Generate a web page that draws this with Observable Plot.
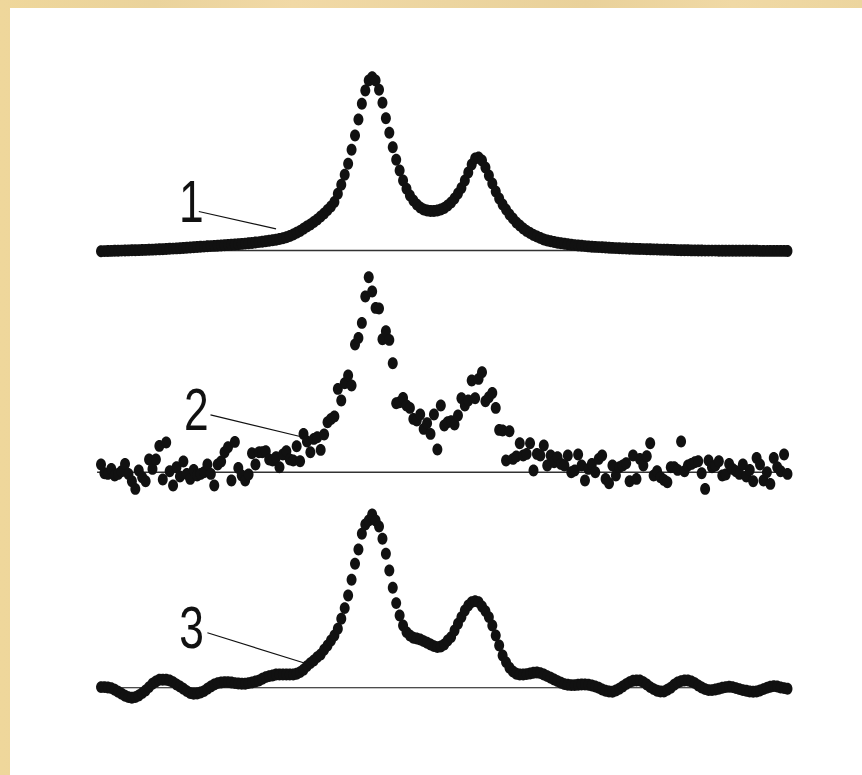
<!DOCTYPE html>
<html>
<head>
<meta charset="utf-8">
<script src="https://cdn.jsdelivr.net/npm/d3@7"></script>
<script src="https://cdn.jsdelivr.net/npm/@observablehq/plot@0.6"></script>
<style>
html,body{margin:0;padding:0;width:862px;height:775px;overflow:hidden;background:#efd9a0;}
body{background:
  linear-gradient(90deg,#efd79b 0%,#ead39c 18%,#f1d9a6 34%,#ecd5a0 52%,#e9d19a 68%,#f0d9a5 85%,#ecd59e 100%);}
#sheet{position:absolute;left:10px;top:8px;width:852px;height:767px;background:#fff;}
#chart{position:absolute;left:0;top:0;width:862px;height:775px;}
#chart svg{display:block;background:transparent;}
</style>
</head>
<body>
<div id="sheet"></div>
<div id="chart"></div>
<script>
// Intensities, one per channel (0..200), above each trace's own baseline.
const trace1 = [
-.7,-.6,-.5,-.4,-.3,-.2,-.1,0,.1,.2,.3,.4,.5,.6,.7,.9,1,1.2,1.3,1.5,
1.7,1.9,2.1,2.3,2.5,2.7,3,3.3,3.5,3.7,3.9,4.2,4.4,4.6,4.8,5,5.3,5.5,5.8,6,
6.3,6.6,6.9,7.2,7.5,8,8.4,8.8,9.2,9.7,10.2,10.8,11.5,12.3,13.3,14.5,16,17.7,19.5,21.7,
24,26,28.5,31,34,37,40.5,44,48.5,56.7,65.7,75.7,86.7,100.7,115,131,146.7,160,170,173.3,
170,160.7,147.7,132.3,117.7,103.3,90.7,80,70,61.7,55,50,46,43,41,40,39.5,39.5,40,41,
42.5,45,48,52,57,62.5,70,78,86,92,93,90,83,75,67,59,52,46,41,36,
32,28,25,22,19.5,17.5,15.5,14,12.5,11,10,9.2,8.5,7.8,7.2,6.7,6.2,5.8,5.4,5,
4.7,4.4,4.1,3.8,3.6,3.4,3.2,3,2.8,2.6,2.4,2.3,2.1,2,1.8,1.7,1.6,1.5,1.4,1.3,
1.2,1.1,1,.9,.8,.7,.6,.5,.4,.3,.2,.2,.1,.1,0,0,-.1,-.1,-.1,-.1,
-.2,-.2,-.2,-.2,-.2,-.3,-.3,-.3,-.3,-.3,-.3,-.3,-.4,-.4,-.4,-.4,-.4,-.4,-.4,-.4,-.5
];
const trace2 = [
7.7,-1,-1.7,3.3,-3.3,-1.7,1,8.3,-1.7,-9,-16.7,1.7,-5,-9,12.7,3.3,12.7,26.3,-7.3,29.7,
1,-13.3,5,-4.3,10.7,-1.7,-6.7,2.3,-3.3,-1.7,0,7.7,-1.7,-13.3,7.7,10.7,20,25,-8.3,30.3,
4.3,-3.3,-8.3,-2.3,19,7.7,20,20,21,12.7,11.7,15,5,17.7,21,12.7,11.7,26,11,38.3,
30.7,20,33.3,35,22.3,37.7,50,53.3,55.7,83.3,71.7,89,96.7,86.7,127.7,134.3,149.3,175.7,195,180.7,
164.3,163.7,133,141,132.3,109,69,70,74.3,66.7,64.3,53.3,51.7,57.7,43.3,49,38.3,57.7,22.7,66.7,
46.7,50,51,47.7,56.7,74,66.7,71.7,91.7,74,93.3,100,71,75,79.3,64.3,42.3,41.7,11.7,41,
13.3,15.7,29,16.7,18.3,29,1.7,18.3,16.7,26.7,6.7,16.7,10,15,8.3,6.7,16.7,0,1.7,17.7,
6.7,-8.3,3.3,8.3,0,13.3,16.7,-6.7,-11,6.7,-3.3,5,6.7,9,-9,16.7,-6.7,13.3,6.7,16,
29,-3.3,1,-5,-7.7,-10,5,5,2.3,30.7,1,6.7,8.3,10,11,-1,-16.7,11.7,5,6.7,
11,-3.3,-2.3,8.3,3.3,1,-1.7,7.7,-4.3,2.3,-9,14.3,7.7,-8.3,0,-11.7,14.3,5,1,17.7,-1.7
];
const trace3 = [
.7,.7,.3,-.3,-2,-4,-6,-8,-9.3,-10,-9.3,-7.7,-5.3,-2.7,.7,4,6.3,8,8,8,
7.3,5.7,3.3,1.3,-1,-3.3,-5.3,-6,-5.7,-4.7,-3.3,-1,1.3,3.3,4.7,5.3,5.7,5.7,5.3,4.7,
4.3,4,4,4.7,5.3,6.3,7.3,9,10.7,11.7,12.3,13.3,13.3,13.3,13.3,13.3,13.3,14,15.7,18,
21.7,24.7,27.3,30.7,33.3,38,42.3,47.3,52.3,59,69,79.7,92.3,108,124,138.3,154,163.3,167.3,173.3,
167.3,161.3,149,134,117.3,100,84.7,72.3,62.3,55.7,52.3,50,49.3,48.3,46.7,45,43.3,41.7,40.7,41.3,
43.3,47.3,50.7,57.3,64,70.7,77.3,82.3,85.7,86.7,85.7,81.3,76.7,70.7,62.3,52.3,42.3,32.3,25.7,20,
16.3,14,13.3,13.3,13.7,14.3,15,15.3,14.7,13.3,11.7,10,8.3,6.7,5,3.7,3,2.7,2.7,3,
3.3,3.3,3,2.3,1.3,0,-1.7,-3,-3.7,-4,-2.7,-1,1.3,3.7,5.7,7,7.3,7.3,5.7,3.3,
.7,-1.3,-3,-3.7,-3.7,-2,0,3,5.3,6.7,7.3,7.3,6.3,4.7,2.3,.3,-1.3,-2.3,-2.3,-1.7,
-1,0,.7,1,.7,-.3,-1.3,-2.3,-3,-3.7,-4,-3.7,-2.7,-1.3,0,1,1.7,1.3,.3,-.3,-1
];

// Height of each trace's baseline on the shared vertical scale.
const baselines = [525, 303.3, 87.7];
const traces = [trace1, trace2, trace3];
const labelNames = ["1", "2", "3"];
const labelChannel = [26.3, 27.8, 26.4];
const labelHeight = [573, 365, 147];
const leaderFromChannel = [28.5, 31.9, 31];
const leaderFromHeight = [564, 360.7, 142.7];
const leaderToChannel = [51, 58, 59];
const leaderToHeight = [546.7, 339, 112.7];

const points = traces.flatMap((t, k) => t.map((v, i) => ({channel: i, level: baselines[k] + v})));
const labels = labelNames.map((name, k) => ({name, channel: labelChannel[k], level: labelHeight[k]}));
const leaders = labelNames.map((name, k) => ({
  x1: leaderFromChannel[k], y1: leaderFromHeight[k], x2: leaderToChannel[k], y2: leaderToHeight[k]
}));

// Slightly upright dot, as in the scanned original.
const tallDot = {
  draw(ctx, size) {
    const r = Math.sqrt(size / Math.PI), rx = r * 0.92, ry = r * 1.1, k = 0.5523;
    ctx.moveTo(0, -ry);
    ctx.bezierCurveTo(k * rx, -ry, rx, -k * ry, rx, 0);
    ctx.bezierCurveTo(rx, k * ry, k * rx, ry, 0, ry);
    ctx.bezierCurveTo(-k * rx, ry, -rx, k * ry, -rx, 0);
    ctx.bezierCurveTo(-rx, -k * ry, -k * rx, -ry, 0, -ry);
    ctx.closePath();
  }
};

const chart = Plot.plot({
  width: 862,
  height: 775,
  margin: 0,
  style: {background: "transparent"},
  x: {domain: [0, 200], range: [100.5, 787], axis: null},
  y: {domain: [0, 775], range: [775, 0], axis: null},
  marks: [
    Plot.ruleY(baselines.slice(0, 2), {x1: -1, x2: 201, stroke: "#333", strokeWidth: 1.5}),
    Plot.ruleY(baselines.slice(2), {x1: -1, x2: 201, stroke: "#111", strokeWidth: 1.1}),
    Plot.dot(points, {x: "channel", y: "level", r: 5.4, symbol: tallDot, fill: "#111", stroke: "none"}),
    Plot.link(leaders, {x1: "x1", y1: "y1", x2: "x2", y2: "y2", stroke: "#111", strokeWidth: 1.2}),
    Plot.text(labels, {
      x: "channel", y: "level", text: "name", className: "digit",
      fontSize: 60, fontFamily: "Liberation Sans", fill: "#111", textAnchor: "middle", lineAnchor: "middle"
    })
  ]
});
// Narrow the numerals the way the original's condensed lettering is.
d3.select(chart).selectAll(".digit text").attr("transform", function () {
  return `${this.getAttribute("transform") || ""} scale(.74,1)`;
});
document.getElementById("chart").appendChild(chart);
</script>
</body>
</html>
